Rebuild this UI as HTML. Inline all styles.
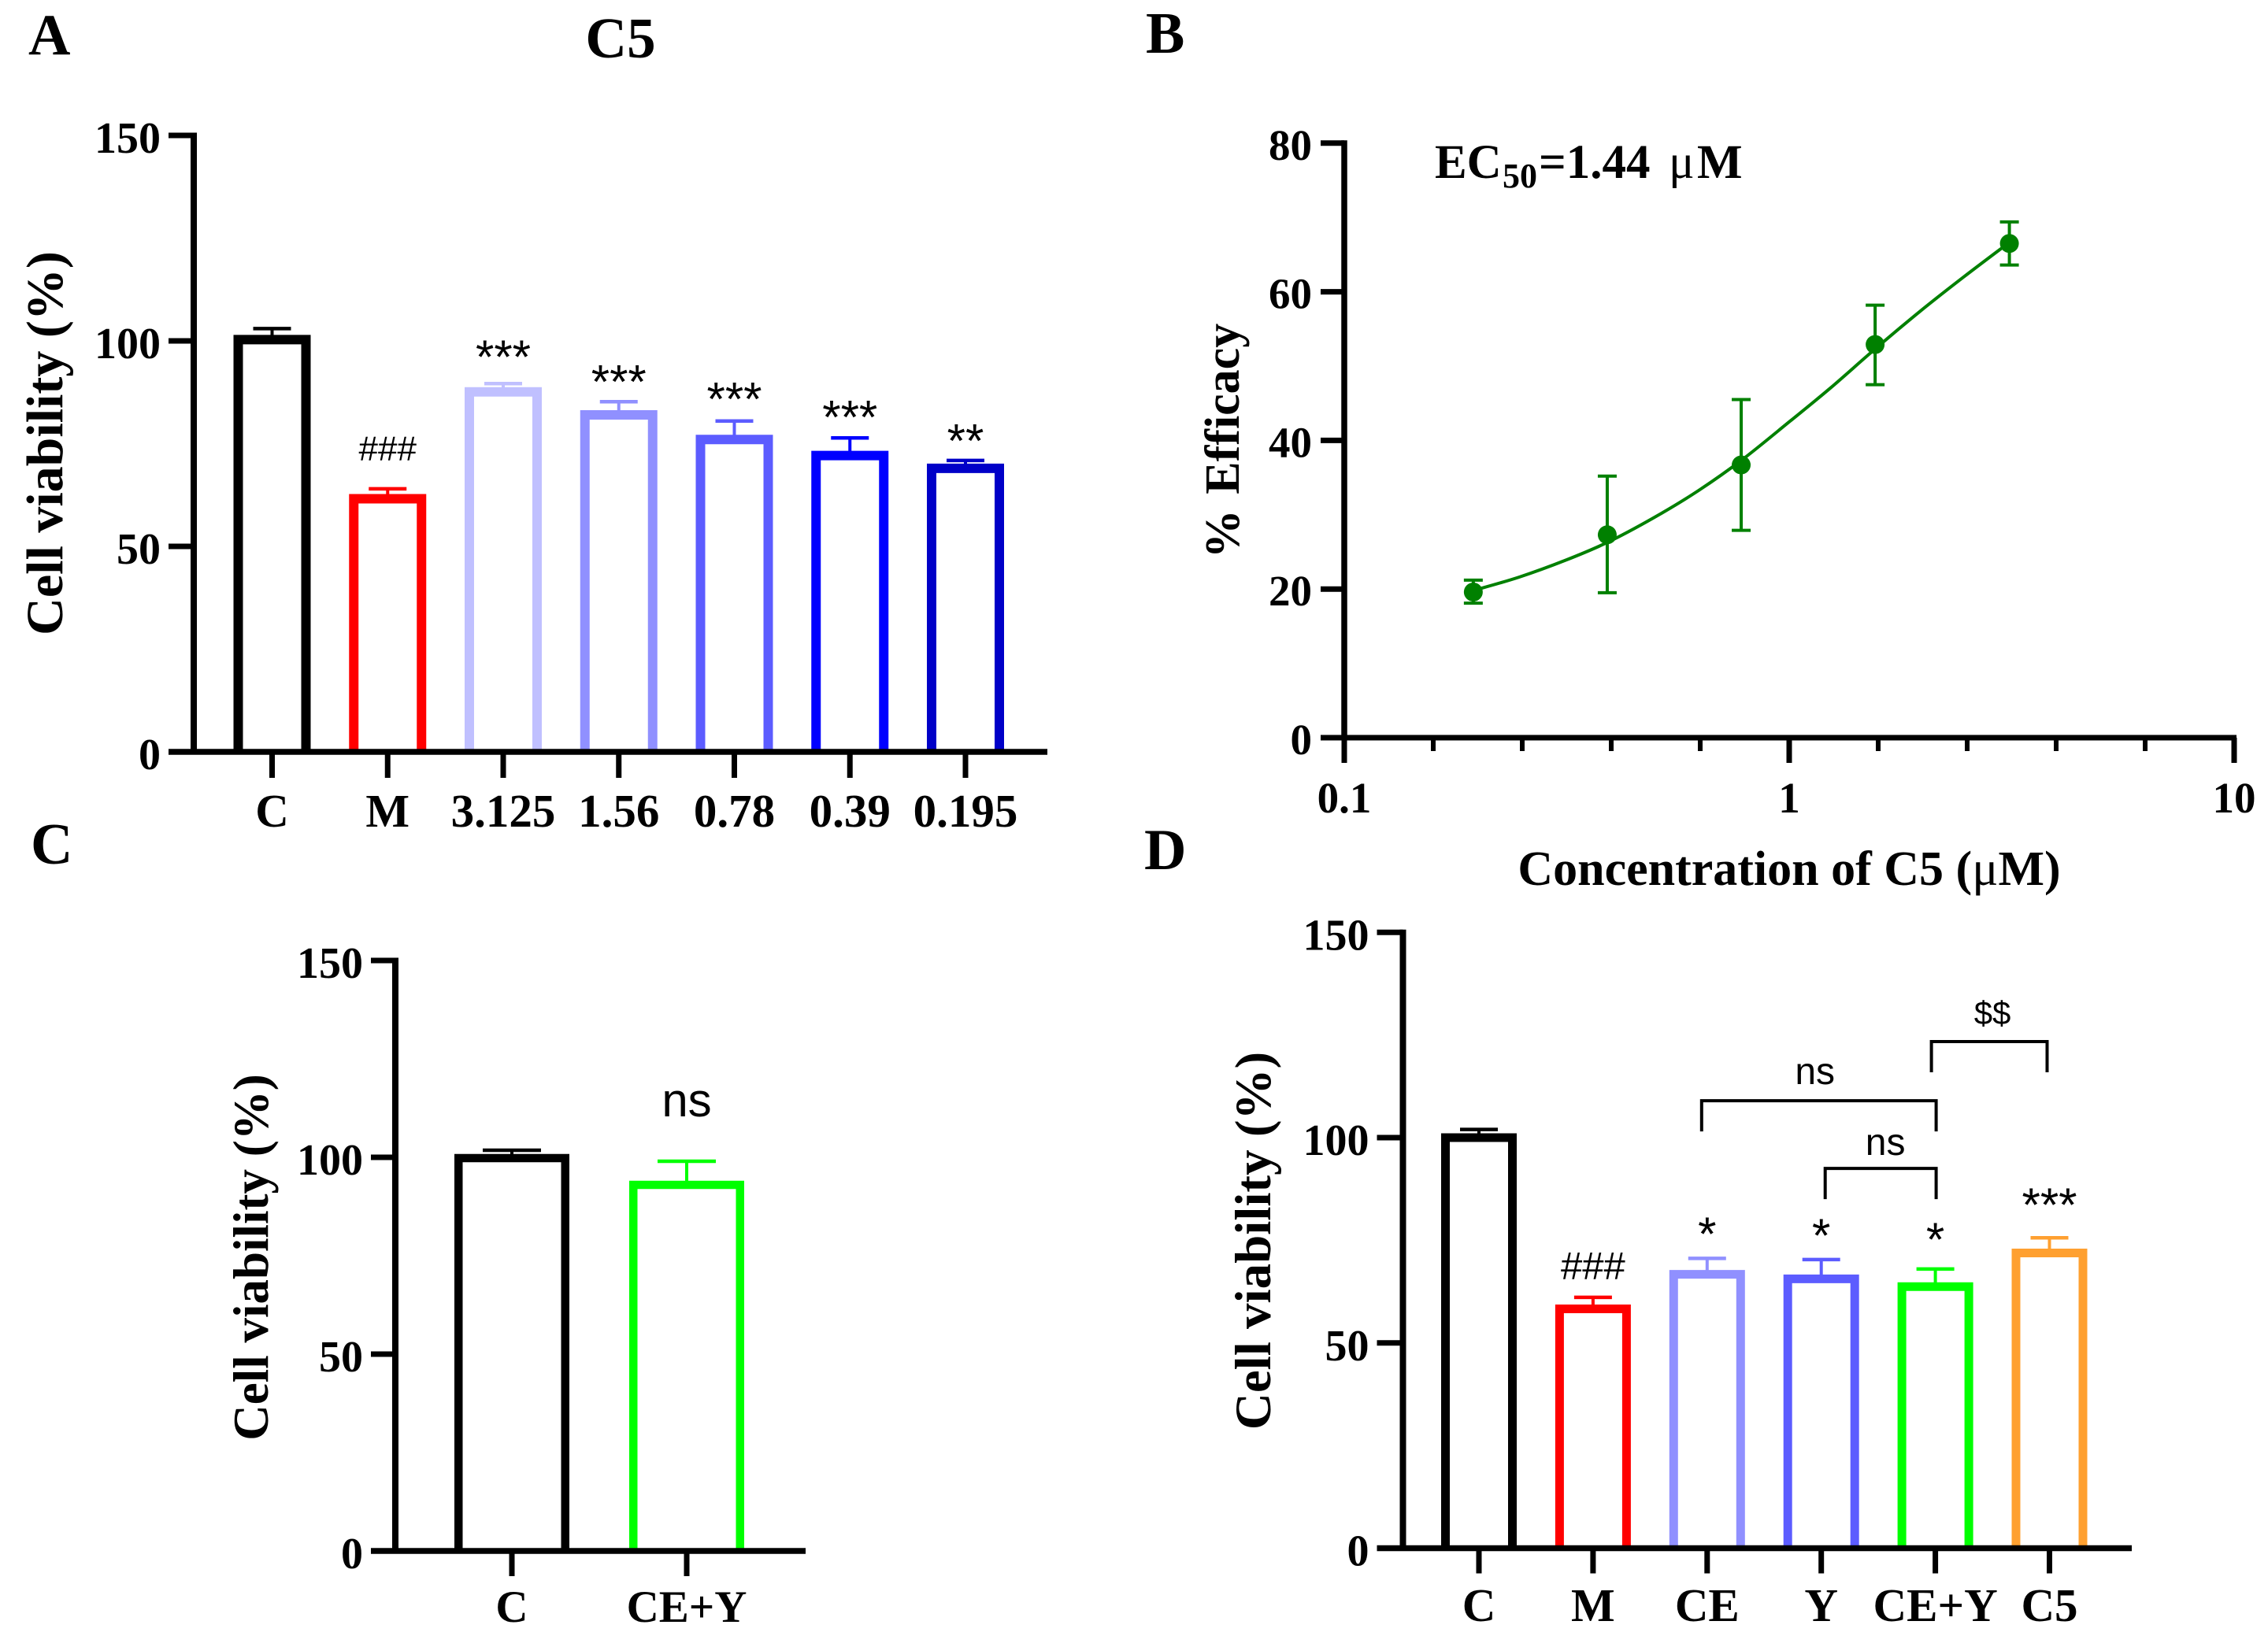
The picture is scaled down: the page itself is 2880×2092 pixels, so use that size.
<!DOCTYPE html>
<html lang="en">
<head>
<meta charset="utf-8">
<title>C5 cell viability figure</title>
<style>
html,body{margin:0;padding:0;background:#fff;}
svg{display:block;}
text{font-family:"Liberation Serif",serif;font-weight:bold;fill:#000;}
text.sans{font-family:"Liberation Sans",sans-serif;font-weight:normal;}
text.letter{font-size:74px;}
tspan.mu{font-weight:normal;}
</style>
</head>
<body>
<svg id="figure" xmlns="http://www.w3.org/2000/svg" width="2880" height="2092" viewBox="0 0 2880 2092">
  <rect x="0" y="0" width="2880" height="2092" fill="#fff"/>
  <text class="letter" x="36" y="69">A</text>
  <text class="letter" x="1455" y="67">B</text>
  <text class="letter" x="39" y="1097">C</text>
  <text class="letter" x="1453" y="1104">D</text>
  <text x="788" y="73" font-size="73" text-anchor="middle">C5</text>
  <text y="226" font-size="61"><tspan x="1822">EC</tspan><tspan x="1908" y="238" font-size="44">50</tspan><tspan x="1954" y="226">=1.44</tspan><tspan class="mu" x="2119">μ</tspan><tspan x="2155">M</tspan></text>
  <text x="2272" y="1124" font-size="62" text-anchor="middle">Concentration of C5 (<tspan class="mu">μ</tspan>M)</text>
  <text font-size="62" text-anchor="middle" word-spacing="4" transform="translate(1573 560) rotate(-90)">% Efficacy</text>
  <text font-size="66" text-anchor="middle" transform="translate(79 563) rotate(-90)">Cell viability (%)</text>
  <text font-size="63" text-anchor="middle" transform="translate(340 1597) rotate(-90)">Cell viability (%)</text>
  <text font-size="65" text-anchor="middle" transform="translate(1613 1576) rotate(-90)">Cell viability (%)</text>
  <g id="marks"></g>
</svg>
<script>
// Panel A data
const aCategories = ['C', 'M', '3.125', '1.56', '0.78', '0.39', '0.195'];
const aValues = [100.3, 61.6, 87.6, 82, 76, 72.1, 69];
const aErrors = [103, 64, 89.6, 85.2, 80.5, 76.4, 70.9];
const aColors = ['#000000', '#ff0000', '#c0c0ff', '#9090ff', '#5c5cff', '#0000ff', '#0000c8'];
const aLabels = ['', '###', '***', '***', '***', '***', '**'];
const aLabelLevels = [0, 71, 92.1, 86.1, 81.9, 77.5, 71.7];
const viabilityTicks = [0, 50, 100, 150];

// Panel B data
const bConcentrations = [0.195, 0.39, 0.78, 1.56, 3.125];
const bMeans = [19.6, 27.3, 36.7, 52.9, 66.5];
const bErrHigh = [21.2, 35.2, 45.5, 58.2, 69.4];
const bErrLow = [18.1, 19.5, 27.9, 47.5, 63.6];
const bCurveX = [0.195, 0.247, 0.315, 0.391, 0.493, 0.618, 0.78, 1.005, 1.235, 1.56, 1.971, 2.468, 3.118];
const bCurveY = [19.8, 21.6, 23.9, 26.3, 29.5, 33.05, 37.3, 42.6, 47.0, 52.3, 57.4, 62.0, 66.6];
const bYTicks = [0, 20, 40, 60, 80];
const bXMajor = [0.1, 1, 10];
const bXMinorSteps = [0.2, 0.4, 0.6, 0.8];

// Panel C data
const cCategories = ['C', 'CE+Y'];
const cValues = [99.8, 93];
const cErrors = [101.8, 99];
const cColors = ['#000000', '#00ff00'];
const cLabels = ['', 'ns'];
const cLabelLevels = [0, 110.4];

// Panel D data
const dCategories = ['C', 'M', 'CE', 'Y', 'CE+Y', 'C5'];
const dValues = [100, 58.3, 66.7, 65.6, 63.7, 71.9];
const dErrors = [102, 61.1, 70.6, 70.3, 68, 75.6];
const dColors = ['#000000', '#ff0000', '#9090ff', '#5c5cff', '#00ff00', '#ffa030'];
const dLabels = ['', '###', '*', '*', '*', '***'];
const dLabelLevels = [0, 65.5, 72.6, 72.2, 71.2, 79.7];
const dBracketLabels = ['$$', 'ns', 'ns'];
const dBracketStart = [4, 2, 3];
const dBracketEnd = [5, 4, 4];
const dBracketLevels = [123.4, 109, 92.5];

const NS = 'http://www.w3.org/2000/svg';
const root = document.getElementById('marks');

function make(tag, props) {
  const el = document.createElementNS(NS, tag);
  for (const k in props) el.setAttribute(k, props[k]);
  root.appendChild(el);
  return el;
}
function line(name, x1, y1, x2, y2, color, width) {
  const el = make('line', {x1: x1, y1: y1, x2: x2, y2: y2, stroke: color, 'stroke-width': width});
  
  
  return el;
}
function label(name, str, x, y, size, anchor, sans) {
  const el = make('text', {x: x, y: y, 'font-size': size, 'text-anchor': anchor});
  if (sans) el.setAttribute('class', 'sans');
  el.textContent = str;
  
  
  return el;
}

function drawBarPanel(p, categories, values, errors, colors, labels, levels) {
  const y = v => p.y0 - v * p.unit;
  const x = i => p.x0 + i * p.step;
  categories.forEach((cat, i) => {
    const left = x(i) - p.barW / 2 + p.stroke / 2;
    const right = x(i) + p.barW / 2 - p.stroke / 2;
    const top = y(values[i]);
    line(p.id + '-error-stem-' + i, x(i), top, x(i), y(errors[i]), colors[i], 4);
    line(p.id + '-error-cap-' + i, x(i) - p.cap / 2, y(errors[i]), x(i) + p.cap / 2, y(errors[i]), colors[i], 4.5);
    const bar = make('path', {d: 'M' + left + ' ' + p.y0 + 'V' + top + 'H' + right + 'V' + p.y0, fill: '#fff', stroke: colors[i], 'stroke-width': p.stroke});
    
    
    line(p.id + '-x-tick-' + i, x(i), p.y0, x(i), p.y0 + p.tick, '#000', 7);
    label(p.id + '-x-label-' + i, cat, x(i), p.labelY, p.labelSize, 'middle');
    if (labels[i]) {
      const size = labels[i] === '###' ? p.hashSize : 60;
      label(p.id + '-sig-' + i, labels[i], x(i), y(levels[i]), size, 'middle', true);
    }
  });
  viabilityTicks.forEach(t => {
    line(p.id + '-y-tick-' + t, p.axisX - p.tickL, y(t), p.axisX, y(t), '#000', 7);
    label(p.id + '-y-label-' + t, String(t), p.axisX - p.tickL - 10, y(t) + 22, 56, 'end');
  });
  line(p.id + '-y-axis', p.axisX, y(150) - 3.5, p.axisX, p.y0 + 3.5, '#000', 8);
  line(p.id + '-x-axis', p.axisX - p.tickL, p.y0, p.xEnd, p.y0, '#000', 7.5);
}

const panelA = {id: 'panel-a', x0: 345.5, step: 146.75, y0: 955, unit: 5.22, barW: 98, stroke: 12, cap: 48, tick: 33, tickL: 32, axisX: 246, xEnd: 1330, labelY: 1050, labelSize: 59, hashSize: 44};
const panelC = {id: 'panel-c', x0: 650, step: 222, y0: 1970, unit: 5.0, barW: 146, stroke: 10.5, cap: 74, tick: 32, tickL: 31, axisX: 502, xEnd: 1023, labelY: 2060, labelSize: 57, hashSize: 44};
const panelD = {id: 'panel-d', x0: 1878, step: 144.9, y0: 1966.5, unit: 5.215, barW: 96, stroke: 11, cap: 48, tick: 32, tickL: 33, axisX: 1781.5, xEnd: 2707, labelY: 2059, labelSize: 59, hashSize: 49};

drawBarPanel(panelA, aCategories, aValues, aErrors, aColors, aLabels, aLabelLevels);
drawBarPanel(panelC, cCategories, cValues, cErrors, cColors, cLabels, cLabelLevels);
drawBarPanel(panelD, dCategories, dValues, dErrors, dColors, dLabels, dLabelLevels);

// Panel D comparison brackets
const dY = v => panelD.y0 - v * panelD.unit;
const dX = i => panelD.x0 + i * panelD.step;
dBracketLabels.forEach((txt, i) => {
  const xa = dX(dBracketStart[i]) + (i === 0 ? -5 : (i === 1 ? -7 : 5));
  const xb = dX(dBracketEnd[i]) + (i === 0 ? -3 : 1);
  const top = dY(dBracketLevels[i]);
  const path = make('path', {d: 'M' + xa + ' ' + (top + 39) + 'V' + top + 'H' + xb + 'V' + (top + 39), fill: 'none', stroke: '#000', 'stroke-width': 4});
  
  
  label('panel-d-bracket-label-' + i, txt, (xa + xb) / 2 + (i === 1 ? -5 : (i === 0 ? 4 : 6)), top - (i === 0 ? 22 : (i === 1 ? 21 : 17)), i === 0 ? 42 : 48, 'middle', true);
});

// Panel B: log x, linear y
const bx = c => 1707 + (Math.log10(c) + 1) * 565;
const by = v => 937 - v * 9.44;
const green = '#008000';
const curvePts = bCurveX.map((c, i) => [bx(c), by(bCurveY[i])]);
let d = 'M' + curvePts[0][0] + ' ' + curvePts[0][1];
for (let i = 0; i < curvePts.length - 1; i++) {
  const p0 = curvePts[Math.max(i - 1, 0)], p1 = curvePts[i], p2 = curvePts[i + 1], p3 = curvePts[Math.min(i + 2, curvePts.length - 1)];
  d += 'C' + (p1[0] + (p2[0] - p0[0]) / 6) + ' ' + (p1[1] + (p2[1] - p0[1]) / 6) + ' ' + (p2[0] - (p3[0] - p1[0]) / 6) + ' ' + (p2[1] - (p3[1] - p1[1]) / 6) + ' ' + p2[0] + ' ' + p2[1];
}
const curve = make('path', {d: d, fill: 'none', stroke: green, 'stroke-width': 4});


bConcentrations.forEach((c, i) => {
  line('panel-b-error-stem-' + i, bx(c), by(bErrHigh[i]), bx(c), by(bErrLow[i]), green, 4);
  line('panel-b-error-cap-high-' + i, bx(c) - 12, by(bErrHigh[i]), bx(c) + 12, by(bErrHigh[i]), green, 4);
  line('panel-b-error-cap-low-' + i, bx(c) - 12, by(bErrLow[i]), bx(c) + 12, by(bErrLow[i]), green, 4);
  const pt = make('circle', {cx: bx(c), cy: by(bMeans[i]), r: 12, fill: green});
  
  
});
bYTicks.forEach(t => {
  line('panel-b-y-tick-' + t, 1677, by(t), 1707, by(t), '#000', 7);
  label('panel-b-y-label-' + t, String(t), 1666, by(t) + 21, 55, 'end');
});
bXMajor.forEach((m, i) => {
  line('panel-b-x-tick-' + i, bx(m), 937, bx(m), 969, '#000', 7);
  label('panel-b-x-label-' + i, String(m), bx(m), 1032, 55, 'middle');
  if (i < bXMajor.length - 1) {
    bXMinorSteps.forEach((s, j) => {
      const lx = bx(m) + s * (bx(bXMajor[i + 1]) - bx(m));
      line('panel-b-x-minor-tick-' + i + '-' + j, lx, 937, lx, 954, '#000', 6);
    });
  }
});
line('panel-b-y-axis', 1707, by(80) - 3.5, 1707, 940.5, '#000', 7.5);
line('panel-b-x-axis', 1677, 937, 2840, 937, '#000', 7);
</script>
</body>
</html>
